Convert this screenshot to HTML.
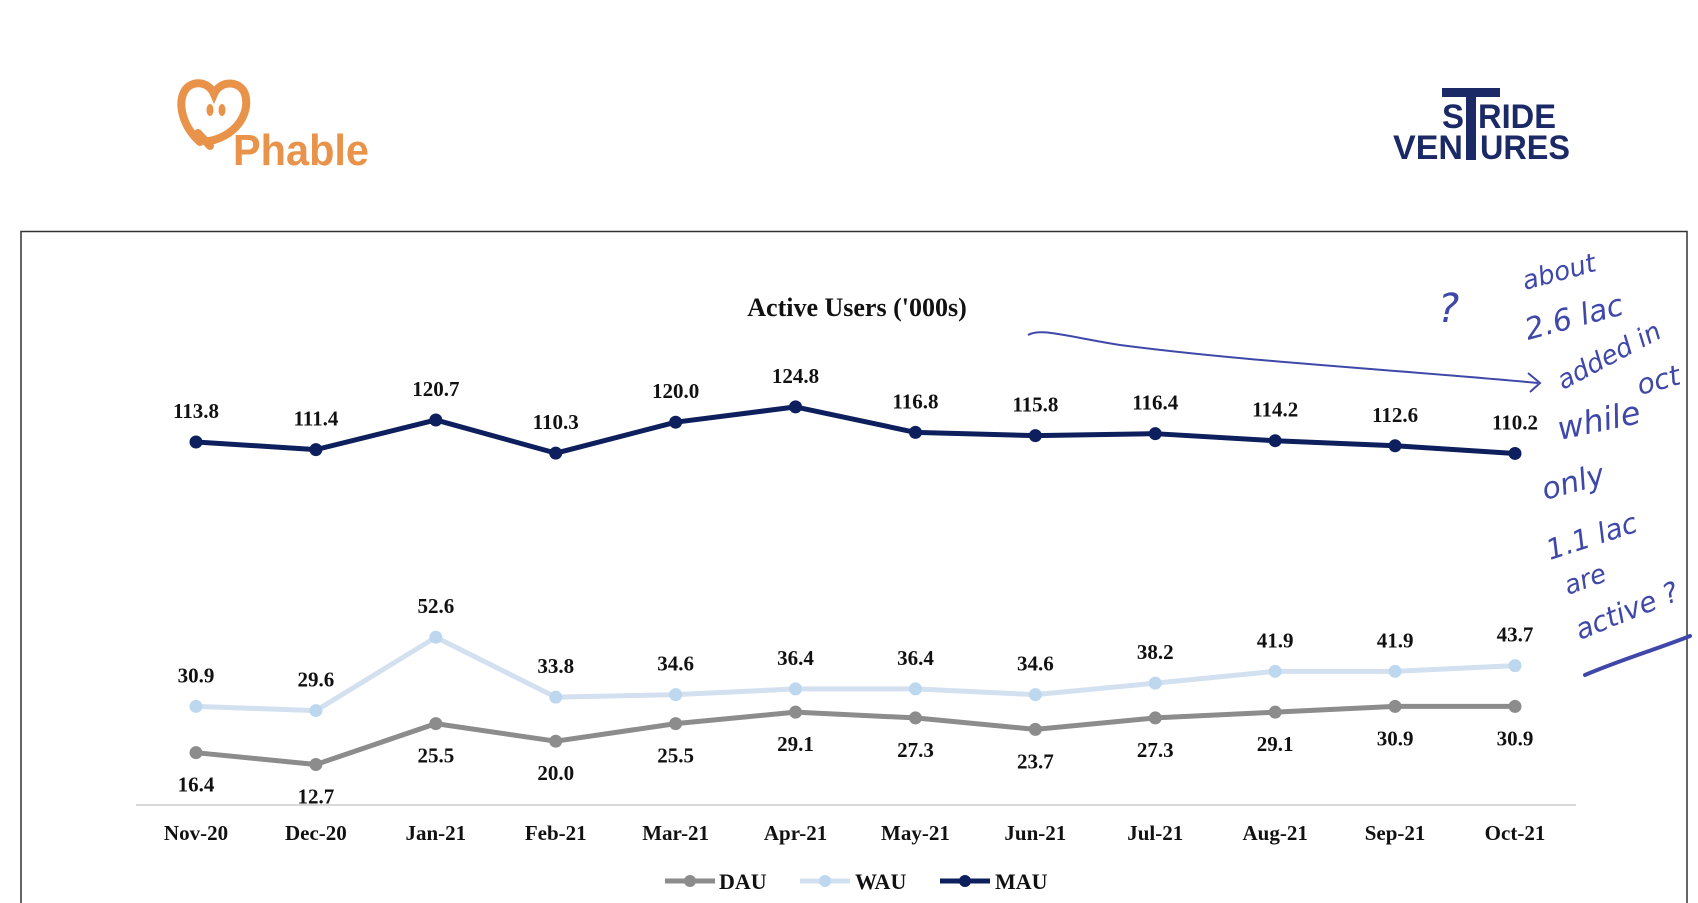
<!DOCTYPE html>
<html><head><meta charset="utf-8">
<style>
html,body{margin:0;padding:0;background:#fff;}
body{width:1698px;height:903px;overflow:hidden;position:relative;font-family:"Liberation Serif",serif;}
svg{position:absolute;left:0;top:0;}
</style></head>
<body>
<svg id="chart" width="1698" height="903" viewBox="0 0 1698 903" xmlns="http://www.w3.org/2000/svg">
  <g>
    <path d="M200 142 C182 126 178 104 184 92 C190 80 208 80 214 94 C220 80 240 80 245 94 C250 110 240 132 214 140 C204 143 197 139 195 135" fill="none" stroke="#e8924a" stroke-width="8" stroke-linecap="round"/>
    <path d="M198 133 L210 146" stroke="#e8924a" stroke-width="8" stroke-linecap="round"/>
    <ellipse cx="210" cy="110" rx="3.5" ry="6" fill="#e8924a"/>
    <ellipse cx="222" cy="110" rx="3.5" ry="6" fill="#e8924a"/>
    <text x="233" y="165" font-family="Liberation Sans, sans-serif" font-weight="bold" font-size="44" fill="#e8924a" textLength="136" lengthAdjust="spacingAndGlyphs">Phable</text>
  </g>
  <g fill="#1b2a66" font-family="Liberation Sans, sans-serif" font-weight="bold">
    <rect x="1442" y="88" width="58" height="9"/>
    <rect x="1466" y="88" width="10" height="72"/>
    <text x="1442" y="128" font-size="34" textLength="22" lengthAdjust="spacingAndGlyphs">S</text>
    <text x="1478" y="128" font-size="34" textLength="78" lengthAdjust="spacingAndGlyphs">RIDE</text>
    <text x="1393" y="159" font-size="34" textLength="70" lengthAdjust="spacingAndGlyphs">VEN</text>
    <text x="1480" y="159" font-size="34" textLength="90" lengthAdjust="spacingAndGlyphs">URES</text>
  </g>
  <path d="M21 905 L21 231.5 L1687 231.5 L1687 905" fill="none" stroke="#333" stroke-width="1.5"/>
  <text x="857" y="316" text-anchor="middle" font-size="26" font-weight="bold" fill="#111">Active Users ('000s)</text>
  <line x1="136" y1="805" x2="1576" y2="805" stroke="#d9d9d9" stroke-width="2"/>
  <g id="xlabels"></g>
  <g id="series"></g>
  <g id="labels"></g>
  <g font-size="22" font-weight="bold" fill="#111">
    <g>
      <line x1="665" y1="881" x2="715" y2="881" stroke="#8c8c8c" stroke-width="5"/><circle cx="690" cy="881" r="6" fill="#8c8c8c"/>
      <text x="719" y="889">DAU</text></g>
    <g>
      <line x1="800" y1="881" x2="850" y2="881" stroke="#d3e0f0" stroke-width="5"/><circle cx="825" cy="881" r="6" fill="#bdd7ee"/>
      <text x="855" y="889">WAU</text></g>
    <g>
      <line x1="940" y1="881" x2="990" y2="881" stroke="#0d1f5c" stroke-width="5"/><circle cx="965" cy="881" r="6" fill="#0d1f5c"/>
      <text x="995" y="889">MAU</text></g>
  </g>
  <g fill="#3f48a8" font-family="DejaVu Sans, sans-serif" font-style="italic" font-size="26">
    <path d="M1028 335 C1040 328 1060 335 1120 345 C1250 362 1400 370 1538 383" fill="none" stroke="#3f48a8" stroke-width="2"/>
    <path d="M1528 373 L1540 383 L1530 392" fill="none" stroke="#3f48a8" stroke-width="2"/>
    <path d="M1585 675 C1620 660 1660 648 1690 636" fill="none" stroke="#3f48a8" stroke-width="4" stroke-linecap="round"/>
    <text x="1438" y="322" font-size="40">?</text>
    <text transform="translate(1525,290) rotate(-15)">about</text>
    <text transform="translate(1528,340) rotate(-15)" font-size="30">2.6 lac</text>
    <text transform="translate(1563,390) rotate(-28)">added in</text>
    <text transform="translate(1640,395) rotate(-15)" font-size="28">oct</text>
    <text transform="translate(1560,440) rotate(-12)" font-size="32">while</text>
    <text transform="translate(1545,500) rotate(-15)" font-size="30">only</text>
    <text transform="translate(1550,560) rotate(-18)" font-size="28">1.1 lac</text>
    <text transform="translate(1568,595) rotate(-20)">are</text>
    <text transform="translate(1580,640) rotate(-22)" font-size="28">active ?</text>
  </g>
</svg>
<script>
const categories = ["Nov-20","Dec-20","Jan-21","Feb-21","Mar-21","Apr-21","May-21","Jun-21","Jul-21","Aug-21","Sep-21","Oct-21"];
const dauValues = [16.4,12.7,25.5,20.0,25.5,29.1,27.3,23.7,27.3,29.1,30.9,30.9];
const wauValues = [30.9,29.6,52.6,33.8,34.6,36.4,36.4,34.6,38.2,41.9,41.9,43.7];
const mauValues = [113.8,111.4,120.7,110.3,120.0,124.8,116.8,115.8,116.4,114.2,112.6,110.2];

const NS = "http://www.w3.org/2000/svg";
function xPos(i){ return 196 + i * (1515 - 196) / (categories.length - 1); }
function yPos(v){ return 805 - 3.19 * v; }
function mk(tag, attrs){ const e = document.createElementNS(NS, tag); for (const k in attrs) e.setAttribute(k, attrs[k]); return e; }

const xg = document.getElementById('xlabels');
categories.forEach((c,i)=>{
  const t = mk('text',{x:xPos(i),y:840,'text-anchor':'middle','font-size':21,'font-weight':'bold',fill:'#111'});
  
  
  t.textContent = c; xg.appendChild(t);
});

const sg = document.getElementById('series');
const lg = document.getElementById('labels');
function drawSeries(name, vals, lineColor, dotColor, w, labelOffset){
  const pts = vals.map((v,i)=>xPos(i)+','+yPos(v)).join(' ');
  const pl = mk('polyline',{points:pts,fill:'none',stroke:lineColor,'stroke-width':w,'stroke-linejoin':'round'});
  
  
  sg.appendChild(pl);
  vals.forEach((v,i)=>{
    const c = mk('circle',{cx:xPos(i),cy:yPos(v),r:6.5,fill:dotColor});
    
    
    sg.appendChild(c);
    const t = mk('text',{x:xPos(i),y:yPos(v)+labelOffset,'text-anchor':'middle','font-size':21,'font-weight':'bold',fill:'#111'});
    
    
    t.textContent = v.toFixed(1); lg.appendChild(t);
  });
}
drawSeries('dau', dauValues, '#8c8c8c', '#8c8c8c', 5, 39);
drawSeries('wau', wauValues, '#d3e0f0', '#bdd7ee', 5, -24);
drawSeries('mau', mauValues, '#0d1f5c', '#0d1f5c', 5, -24);
</script>
</body></html>
